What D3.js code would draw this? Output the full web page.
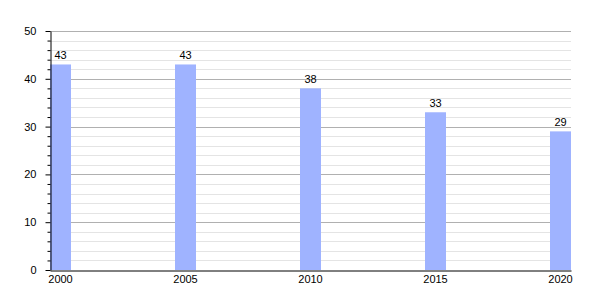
<!DOCTYPE html>
<html>
<head>
<meta charset="utf-8">
<script src="https://cdn.jsdelivr.net/npm/d3@7"></script>
<style>
  body { margin: 0; background: #fff; }
  svg text { font-family: "Liberation Sans", Arial, sans-serif; font-size: 11px; fill: #000; }
</style>
</head>
<body>
<svg width="600" height="300"></svg>
<script>
var years = ["2000", "2005", "2010", "2015", "2020"];
var values = [43, 43, 38, 33, 29];
var yMajorTicks = [0, 10, 20, 30, 40, 50];

var margin = { top: 31, left: 50, bottom: 30, right: 29 };
var svg = d3.select('svg');
var svgWidth = 600, svgHeight = 300;

// x scale: one band per year
var xScale = d3.scaleBand()
    .domain(years)
    .range([margin.left, svgWidth - margin.right])
    .paddingInner(0.832)
    .paddingOuter(0);

// y scale
var yScale = d3.scaleLinear()
    .domain([0, 50])
    .range([svgHeight - margin.bottom, margin.top]);

// minor gridlines every 2
var minor = d3.range(2, 50, 2).filter(function(d) { return d % 10 !== 0; });
svg.append('g').selectAll('line.minor').data(minor).enter()
    .append('line')
    .attr('x1', margin.left).attr('x2', svgWidth - margin.right)
    .attr('y1', function(d) { return Math.round(yScale(d)) + 0.5; })
    .attr('y2', function(d) { return Math.round(yScale(d)) + 0.5; })
    .attr('stroke', '#e4e4e4');

// major gridlines
svg.append('g').selectAll('line.major').data(yMajorTicks.slice(1)).enter()
    .append('line')
    .attr('x1', margin.left).attr('x2', svgWidth - margin.right)
    .attr('y1', function(d) { return Math.round(yScale(d)) + 0.5; })
    .attr('y2', function(d) { return Math.round(yScale(d)) + 0.5; })
    .attr('stroke', '#b0b0b0');

// bars
svg.append('g').selectAll('rect').data(values).enter()
    .append('rect')
    .attr('x', function(d, i) { return xScale(years[i]); })
    .attr('width', xScale.bandwidth())
    .attr('y', function(d) { return yScale(d); })
    .attr('height', function(d) { return yScale(0) - yScale(d); })
    .attr('fill', '#9fb3ff');

// value labels
svg.append('g').selectAll('text').data(values).enter()
    .append('text')
    .attr('x', function(d, i) { return xScale(years[i]) + xScale.bandwidth() / 2; })
    .attr('y', function(d) { return yScale(d) - 5; })
    .attr('text-anchor', 'middle')
    .text(function(d) { return d; });

// y axis: major ticks
var yAxis = d3.axisLeft(yScale).tickValues(yMajorTicks).tickSize(5).tickSizeOuter(0).tickPadding(9);
svg.append('g')
    .attr('transform', 'translate(' + (margin.left + 0.5) + ',0)')
    .call(yAxis)
    .call(function(g) { g.select('.domain').attr('stroke', '#000'); })
    .call(function(g) { g.selectAll('.tick text').attr('font-size', 11).attr('font-family', '"Liberation Sans", Arial, sans-serif'); });

// y axis: minor ticks
var yMinorAxis = d3.axisLeft(yScale).tickValues(minor).tickSize(3).tickFormat('');
svg.append('g')
    .attr('transform', 'translate(' + (margin.left + 0.5) + ',0)')
    .call(yMinorAxis)
    .call(function(g) { g.select('.domain').remove(); });

// x axis
var xAxis = d3.axisBottom(xScale).tickSize(0).tickSizeOuter(0).tickPadding(5);
svg.append('g')
    .attr('transform', 'translate(0,' + (Math.round(yScale(0)) + 0.5) + ')')
    .call(xAxis)
    .call(function(g) { g.select('.domain').attr('stroke', '#000'); })
    .call(function(g) { g.selectAll('.tick text').attr('font-size', 11).attr('font-family', '"Liberation Sans", Arial, sans-serif'); });
</script>
</body>
</html>
